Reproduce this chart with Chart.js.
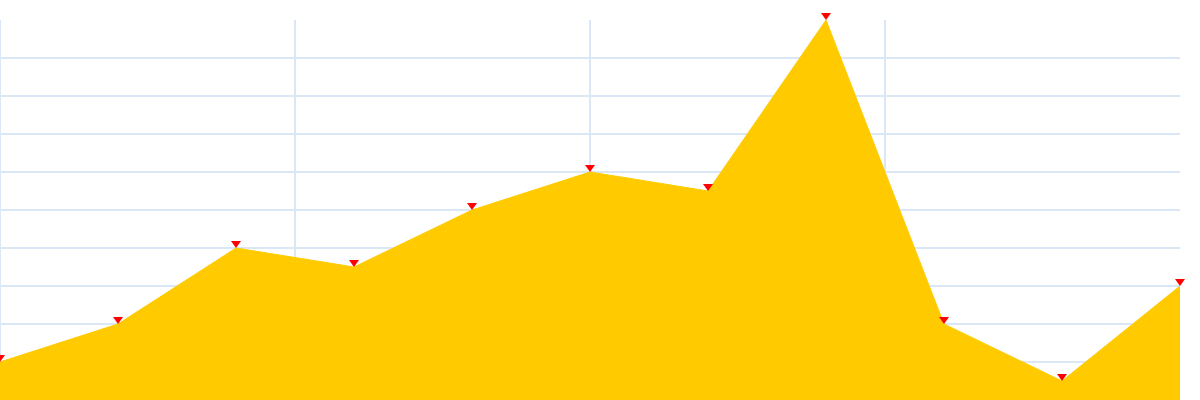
<!DOCTYPE html>
<html>
<head>
<meta charset="utf-8">
<script src="https://cdn.jsdelivr.net/npm/chart.js@4/dist/chart.umd.min.js"></script>
<style>
  html, body { margin: 0; padding: 0; background: #fff; }
  #wrap { width: 1200px; height: 400px; }
</style>
</head>
<body>
<div id="wrap"><canvas id="myChart"></canvas></div>
<script>
// data
const categories = [0, 1, 2, 3, 4, 5, 6, 7, 8, 9, 10];
const values = [1, 2, 4, 3.5, 5, 6, 5.5, 10, 2, 0.5, 3];

// red marker pointing down, tip on the data point
const marker = document.createElement("canvas");
marker.width = 12;
marker.height = 16;
const mctx = marker.getContext("2d");
mctx.fillStyle = "#ff0000";
mctx.beginPath();
mctx.moveTo(1, 1);
mctx.lineTo(11, 1);
mctx.lineTo(6, 8);
mctx.closePath();
mctx.fill();

const gridColor = "#d9e8f4";

const data = {
  datasets: [
    {
      data: categories.map((c, i) => ({ x: c, y: values[i] })),
      backgroundColor: "#ffcb00",
      borderColor: "#ffcb00",
      borderWidth: 1,
      fill: "origin",
      tension: 0,
      pointStyle: marker,
      pointRadius: 6,
      clip: false,
    },
  ],
};

const config = {
  type: "line",
  data: data,
  options: {
    responsive: true,
    maintainAspectRatio: false,
    animation: false,
    layout: { autoPadding: false, padding: { top: 20, right: 20, left: 0, bottom: 0 } },
    plugins: { legend: { display: false }, tooltip: { enabled: false } },
    scales: {
      x: {
        type: "linear",
        min: 0,
        max: 10,
        ticks: { display: false, stepSize: 2.5 },
        border: { display: false },
        grid: {
          drawTicks: false,
          lineWidth: 2,
          color: (ctx) => (ctx.tick && ctx.tick.value === 10 ? "transparent" : gridColor),
        },
      },
      y: {
        min: 0,
        max: 10,
        ticks: { display: false, stepSize: 1 },
        border: { display: false },
        grid: {
          drawTicks: false,
          lineWidth: 2,
          color: (ctx) =>
            ctx.tick && (ctx.tick.value === 0 || ctx.tick.value === 10) ? "transparent" : gridColor,
        },
      },
    },
  },
};

new Chart(document.getElementById("myChart"), config);
</script>
</body>
</html>
